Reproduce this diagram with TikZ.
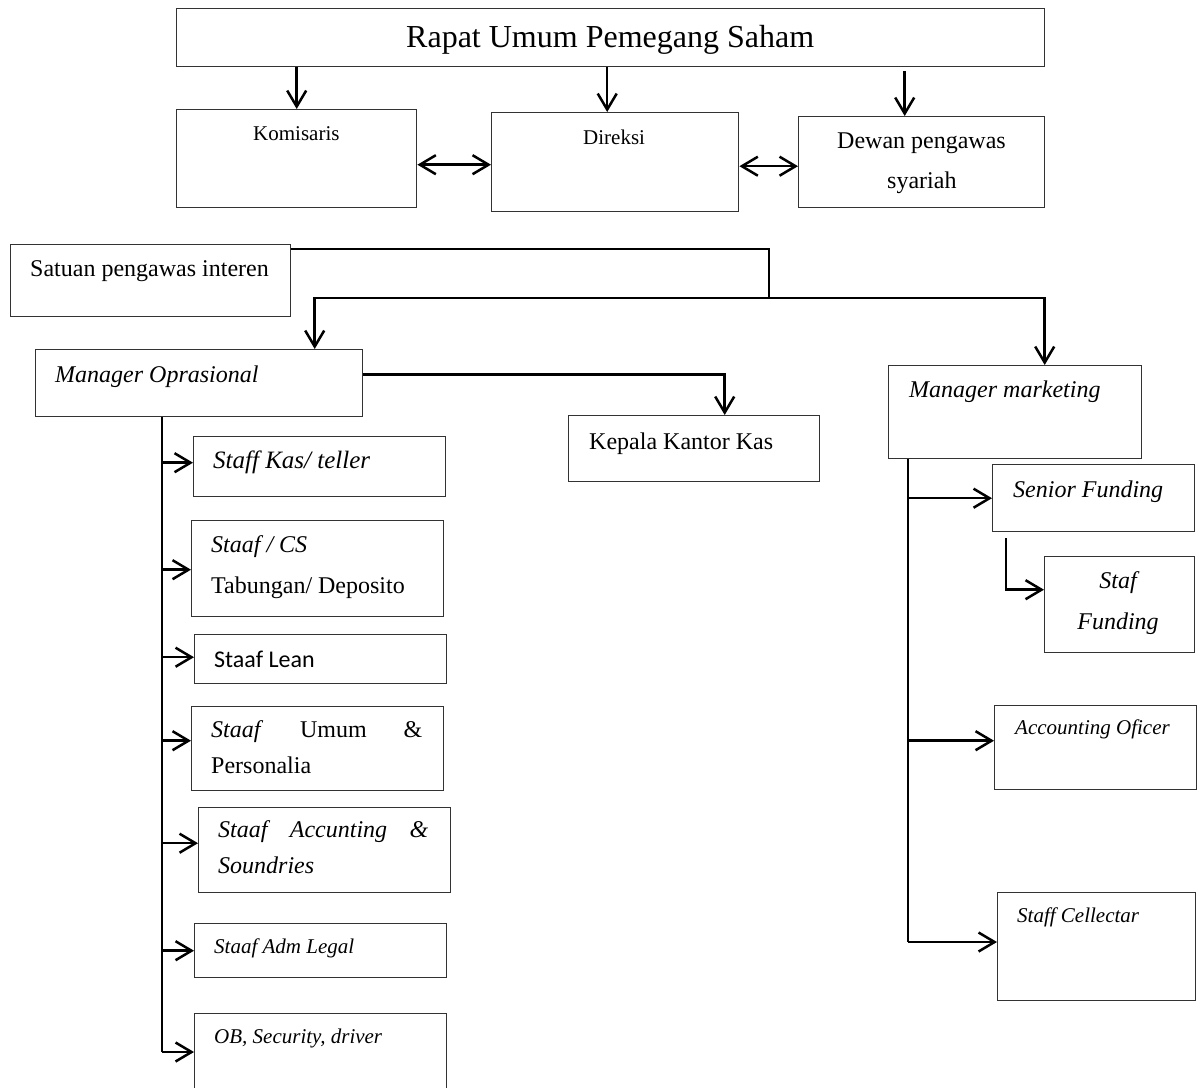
\documentclass[tikz,border=0pt]{standalone}
\usepackage{fontspec}
\setmainfont{Liberation Serif}
\newfontfamily\calibri{Carlito}
\usepackage{tikz}
\usetikzlibrary{arrows.meta,positioning,calc}

\tikzset{
  box/.style={draw=black!80, line width=1.4pt, anchor=north west, inner sep=0pt},
  line/.style={line width=2.5pt},
  arr/.style={line width=2.5pt, -{Straight Barb[length=16pt,width=19pt]}},
  darr/.style={line width=2.5pt, {Straight Barb[length=16pt,width=19pt]}-{Straight Barb[length=16pt,width=19pt]}},
  txt/.style={anchor=base west, inner sep=0pt, font=\fontsize{24}{29}\selectfont},
  stxt/.style={anchor=base west, inner sep=0pt, font=\fontsize{21}{25}\selectfont}
}

\begin{document}
\begin{tikzpicture}[x=1pt,y=-1pt]
\useasboundingbox (0,0) rectangle (1199,1087);
% boxes
\node[box, minimum width=868pt, minimum height=58pt] (rups) at (176,8) {};
\node[box, minimum width=240pt, minimum height=98pt] (kom) at (176,109) {};
\node[box, minimum width=247pt, minimum height=99pt] (dir) at (491,112) {};
\node[box, minimum width=246pt, minimum height=91pt] (dps) at (798,116) {};
\node[box, minimum width=280pt, minimum height=72pt] (spi) at (10,244) {};
\node[box, minimum width=327pt, minimum height=67pt] (mo) at (35,349) {};
\node[box, minimum width=251pt, minimum height=66pt] (kkk) at (568,415) {};
\node[box, minimum width=253pt, minimum height=93pt] (mm) at (888,365) {};
\node[box, minimum width=252pt, minimum height=60pt] (kas) at (193,436) {};
\node[box, minimum width=252pt, minimum height=96pt] (cs) at (191,520) {};
\node[box, minimum width=252pt, minimum height=49pt] (lean) at (194,634) {};
\node[box, minimum width=252pt, minimum height=84pt] (umum) at (191,706) {};
\node[box, minimum width=252pt, minimum height=85pt] (acc) at (198,807) {};
\node[box, minimum width=252pt, minimum height=54pt] (legal) at (194,923) {};
\node[box, minimum width=252pt, minimum height=90pt] (ob) at (194,1013) {};
\node[box, minimum width=202pt, minimum height=67pt] (sen) at (992,464) {};
\node[box, minimum width=150pt, minimum height=96pt] (stf) at (1044,556) {};
\node[box, minimum width=202pt, minimum height=84pt] (ao) at (994,705) {};
\node[box, minimum width=198pt, minimum height=108pt] (coll) at (997,892) {};
% texts
\node[txt, font=\fontsize{32}{38}\selectfont] (rupst) at (406,47) {Rapat Umum Pemegang Saham};
\node[stxt] (komt) at (253,140) {Komisaris};
\node[stxt] (dirt) at (583,144) {Direksi};
\node[txt] (dpst) at (837,148) {Dewan pengawas};
\node[txt] (dpsu) at (887,188) {syariah};
\node[txt] (spit) at (30,276) {Satuan pengawas interen};
\node[txt] (mot) at (55,382) {\itshape Manager Oprasional};
\node[txt] (kkkt) at (589,449) {Kepala Kantor Kas};
\node[txt] (mmt) at (909,397) {\itshape Manager marketing};
\node[txt, font=\fontsize{25}{30}\selectfont] (kast) at (213,468) {\itshape Staff Kas/ teller};
\node[txt] (cst) at (211,552) {\itshape Staaf / CS};
\node[txt] (csu) at (211,593) {Tabungan/ Deposito};
\node[txt] (leant) at (214,667) {\calibri Staaf Lean};
\node[txt] (umumt) at (211,737) {\makebox[211pt][s]{\textit{Staaf} Umum \&}};
\node[txt] (umumu) at (211,773) {Personalia};
\node[txt] (acct) at (218,837) {\itshape\makebox[210pt][s]{Staaf Accunting \&}};
\node[txt] (accu) at (218,873) {\itshape Soundries};
\node[stxt] (legalt) at (214,953) {\itshape Staaf Adm Legal};
\node[stxt] (obt) at (214,1043) {\itshape OB, Security, driver};
\node[txt] (sent) at (1013,497) {\itshape Senior Funding};
\node[txt, anchor=base] (stft) at (1118,588) {\itshape Staf};
\node[txt, anchor=base] (stfu) at (1118,629) {\itshape Funding};
\node[stxt] (aot) at (1015,734) {\itshape Accounting Oficer};
\node[stxt] (collt) at (1017,922) {\itshape Staff Cellectar};
% top connectors
\draw[arr] (rups.south -| kom.north) -- (kom.north);
\draw[arr] ($(rups.south -| dir.north)+(-8,0)$) -- ($(dir.north)+(-8,0)$);
\draw[arr] ($(rups.south -| dps.north)+(-17,4)$) -- ($(dps.north)+(-17,0)$);
\draw[darr] ($(kom.east)+(0,6)$) -- ($(kom.east -| dir.west)+(0,6)$);
\draw[darr] ($(dir.east)+(0,4)$) -- ($(dir.east -| dps.west)+(0,4)$);
% satuan pengawas
\coordinate (sp) at (769,298);
\draw[line] ($(spi.north east)+(0,5)$) -| (sp);
\draw[arr] (sp) -| ($(mo.north)+(115.5,0)$);
\draw[arr] (sp) -| ($(mm.north)+(29.5,0)$);
\draw[arr] ($(mo.east)+(0,-8.5)$) -| ($(kkk.north)+(30.5,0)$);
% operasional
\coordinate (lsp) at (162,1052);
\draw[line] (mo.south -| lsp) -- (lsp);
\draw[arr] ($(kas.west -| lsp)+(0,-4)$) -- ($(kas.west)+(0,-4)$);
\draw[arr] ($(cs.west -| lsp)+(0,1)$) -- ($(cs.west)+(0,1)$);
\draw[arr] ($(lean.west -| lsp)+(0,-2)$) -- ($(lean.west)+(0,-2)$);
\draw[arr] ($(umum.west -| lsp)+(0,-8)$) -- ($(umum.west)+(0,-8)$);
\draw[arr] ($(acc.west -| lsp)+(0,-7)$) -- ($(acc.west)+(0,-7)$);
\draw[arr] (legal.west -| lsp) -- (legal.west);
\draw[arr] (lsp) -- (lsp -| ob.west);
% marketing
\coordinate (rsp) at (908,942);
\draw[line] (mm.south -| rsp) -- (rsp);
\draw[arr] (sen.west -| rsp) -- (sen.west);
\draw[arr] ($(sen.south west)+(14,6)$) |- ($(stf.west)+(0,-15)$);
\draw[arr] ($(ao.west -| rsp)+(0,-7)$) -- ($(ao.west)+(0,-7)$);
\draw[arr] (rsp) -- (rsp -| coll.west);
\end{tikzpicture}
\end{document}
